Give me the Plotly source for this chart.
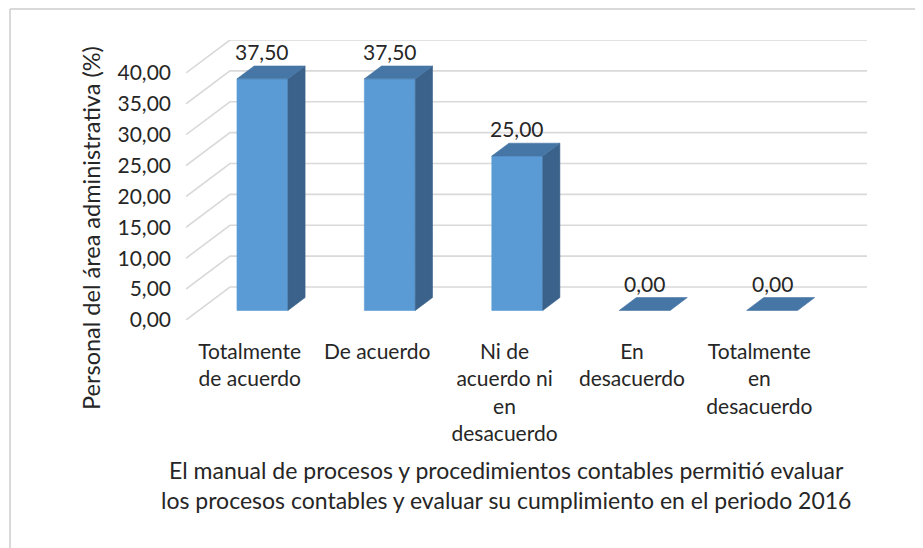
import plotly.graph_objects as go

# data
categorias = ["Totalmente<br>de acuerdo", "De acuerdo", "Ni de<br>acuerdo ni<br>en<br>desacuerdo",
              "En<br>desacuerdo", "Totalmente<br>en<br>desacuerdo"]
porcentajes = [37.50, 37.50, 25.00, 0.00, 0.00]
ticks_y = [0, 5, 10, 15, 20, 25, 30, 35, 40]

# 3D look (Excel style): depth offset in axis units
DX = 0.345   # category units
DY = 5.34    # value units
D0, D1 = 0.29, 0.68   # front / back depth of bars
ANCHO = 0.40

C_FRONT = "#5B9BD5"
C_TOP = "#4676A5"
C_SIDE = "#3A628A"
C_GRID = "#D9D9D9"
FONT = "Lato"
TXT = "#262626"

fig = go.Figure()

# gridlines: side wall slant + back wall
for v in ticks_y:
    fig.add_trace(go.Scatter(
        x=[-0.5, -0.5 + DX, len(categorias) - 0.5 + DX],
        y=[v, v + DY, v + DY],
        mode="lines", line=dict(color=C_GRID, width=1.6),
        hoverinfo="skip", showlegend=False,
    ))


def cara(xs, ys, color):
    fig.add_trace(go.Scatter(
        x=xs + [xs[0]], y=ys + [ys[0]], mode="lines", fill="toself",
        fillcolor=color, line=dict(color=color, width=0.6),
        hoverinfo="skip", showlegend=False,
    ))


bx = (D1 - D0) * DX
by = (D1 - D0) * DY
for i, v in enumerate(porcentajes):
    cx = i + D0 * DX
    l, r = cx - ANCHO / 2, cx + ANCHO / 2
    y0 = D0 * DY
    y1 = v + D0 * DY
    if v > 0:
        cara([l, r, r, l], [y0, y0, y1, y1], C_FRONT)
        cara([r, r + bx, r + bx, r], [y0, y0 + by, y1 + by, y1], C_SIDE)
    cara([l, r, r + bx, l + bx], [y1, y1, y1 + by, y1 + by], C_TOP)
    fig.add_annotation(
        x=cx, y=v + D1 * DY, text=f"{v:.2f}".replace(".", ","),
        showarrow=False, yanchor="bottom", yshift=0,
        font=dict(family=FONT, size=21, color=TXT),
    )

fig.add_annotation(
    x=0.47, y=-0.589, xref="paper", yref="paper", xanchor="center", yanchor="middle",
    text="El manual de procesos y procedimientos contables permitió evaluar<br>"
         "los procesos contables y evaluar su cumplimiento en el periodo 2016",
    showarrow=False, font=dict(family=FONT, size=23, color=TXT),
)
fig.add_annotation(
    x=-0.1395, y=0.329, xref="paper", yref="paper", xanchor="center", yanchor="middle",
    textangle=-90, text="Personal del área administrativa (%)",
    showarrow=False, font=dict(family=FONT, size=23.5, color=TXT),
)

# chart frame (top and left edges visible in the crop)
fig.add_shape(type="line", xref="paper", yref="paper",
              x0=-0.2584, x1=1.2, y0=1.1107, y1=1.1107, line=dict(color=C_GRID, width=2))
fig.add_shape(type="line", xref="paper", yref="paper",
              x0=-0.2584, x1=-0.2584, y0=1.1107, y1=-1.0, line=dict(color=C_GRID, width=2))

fig.update_xaxes(
    range=[-0.5, len(categorias) - 0.5 + DX],
    tickvals=list(range(len(categorias))), ticktext=categorias,
    showgrid=False, zeroline=False, showline=False, ticks="",
    ticklabelstandoff=17,
    tickfont=dict(family=FONT, size=21, color=TXT),
)
fig.update_yaxes(
    range=[0, 40 + DY], tickvals=ticks_y, tickformat=".2f",
    showgrid=False, zeroline=False, showline=False, ticks="",
    ticklabelstandoff=14,
    tickfont=dict(family=FONT, size=21, color=TXT),
)
fig.update_layout(
    width=923, height=548,
    separators=",.",
    plot_bgcolor="white", paper_bgcolor="white",
    margin=dict(l=178, r=64, t=32, b=236, autoexpand=False),
    showlegend=False,
)
fig.write_html("out.html")
